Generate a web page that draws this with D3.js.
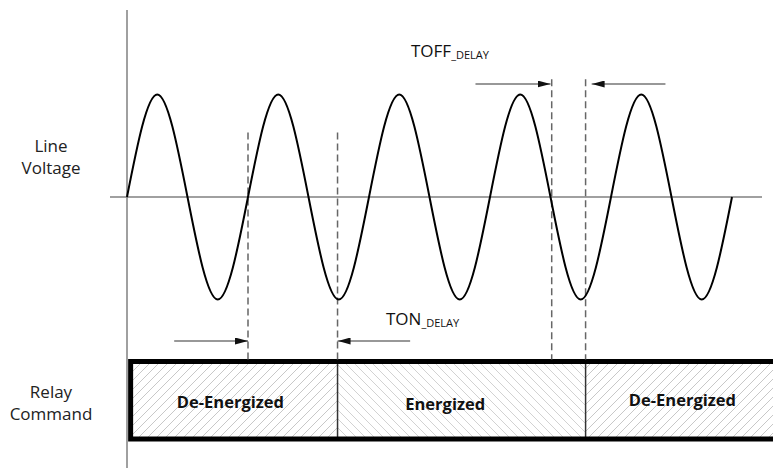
<!DOCTYPE html>
<html>
<head>
<meta charset="utf-8">
<script src="https://cdn.jsdelivr.net/npm/d3@7"></script>
<style>
  body { margin: 0; background: #fff; }
  svg { display: block; font-family: 'Open Sans', Lato, sans-serif; }
</style>
</head>
<body>
<div id="chart"></div>
<script>
// Line voltage key points (time in mains cycles, normalised voltage)
const waveTimes = [0, 0.25, 0.5, 0.75, 1, 1.25, 1.5, 1.75, 2, 2.25, 2.5, 2.75, 3, 3.25, 3.5, 3.75, 4, 4.25, 4.5, 4.75, 5];
const waveValues = [0, 1, 0, -1, 0, 1, 0, -1, 0, 1, 0, -1, 0, 1, 0, -1, 0, 1, 0, -1, 0];

// Dashed timing markers (cycles) and how high they reach (voltage units)
const markerTimes = [1.0, 1.74, 3.51, 3.79];
const markerTops = [0.63, 0.63, 1.15, 1.15];

// Delay arrows: tail -> tip, in cycles
const tonArrows = [{ from: 0.39, to: 1.0 }, { from: 2.34, to: 1.74 }];
const toffArrows = [{ from: 2.88, to: 3.5 }, { from: 4.45, to: 3.84 }];

// Relay command states
const relayStates = ['De-Energized', 'Energized', 'De-Energized'];
const relayStarts = [0.03, 1.74, 3.79];
const relayEnds = [1.74, 3.79, 5.4];
const relayLabelAt = [0.855, 2.63, 4.59];

const rowLabels = [['Line', 'Voltage'], ['Relay', 'Command']];

const W = 773, H = 468;
const svg = d3.select('#chart').append('svg')
    .attr('width', W)
    .attr('height', H);

// Scales
const x = d3.scaleLinear().domain([0, 5]).range([127, 732]);
const y = d3.scaleLinear().domain([-1, 1]).range([299.5, 94.5]);

// Relay row layout
const relayTop = 361.5, relayBottom = 439;

const defs = svg.append('defs');
defs.append('pattern')
    .attr('id', 'hatch-fwd')
    .attr('patternUnits', 'userSpaceOnUse')
    .attr('width', 9).attr('height', 9)
    .append('path')
    .attr('d', 'M0,9 L9,0 M-2.25,2.25 L2.25,-2.25 M6.75,11.25 L11.25,6.75')
    .attr('stroke', '#c8c8c8')
    .attr('stroke-width', 1);
defs.append('pattern')
    .attr('id', 'hatch-back')
    .attr('patternUnits', 'userSpaceOnUse')
    .attr('width', 9).attr('height', 9)
    .append('path')
    .attr('d', 'M0,0 L9,9 M-2.25,6.75 L2.25,11.25 M6.75,-2.25 L11.25,2.25')
    .attr('stroke', '#d2d2d2')
    .attr('stroke-width', 1);

defs.append('marker')
    .attr('id', 'head')
    .attr('viewBox', '0 0 13 7')
    .attr('refX', 13).attr('refY', 3.5)
    .attr('markerWidth', 13).attr('markerHeight', 7)
    .attr('markerUnits', 'userSpaceOnUse')
    .attr('orient', 'auto')
    .append('path')
    .attr('d', 'M0,0 L13,3.5 L0,7 Z')
    .attr('fill', '#111');

// Axes
svg.append('line')
    .attr('x1', x(0)).attr('x2', x(0))
    .attr('y1', 10).attr('y2', H)
    .attr('stroke', '#808080')
    .attr('stroke-width', 1.5);
svg.append('line')
    .attr('x1', 110).attr('x2', 762)
    .attr('y1', y(0)).attr('y2', y(0))
    .attr('stroke', '#808080')
    .attr('stroke-width', 1.5);

// Relay command boxes
const relay = svg.append('g');
relay.selectAll('rect')
    .data(relayStates)
    .join('rect')
    .attr('x', (d, i) => x(relayStarts[i]))
    .attr('y', relayTop)
    .attr('width', (d, i) => x(relayEnds[i]) - x(relayStarts[i]))
    .attr('height', relayBottom - relayTop)
    .attr('fill', d => d === 'Energized' ? 'url(#hatch-back)' : 'url(#hatch-fwd)');

relay.selectAll('line.divider')
    .data(relayStarts.slice(1))
    .join('line')
    .attr('class', 'divider')
    .attr('x1', d => x(d)).attr('x2', d => x(d))
    .attr('y1', relayTop).attr('y2', relayBottom)
    .attr('stroke', '#333')
    .attr('stroke-width', 1.5);

const x0 = x(relayStarts[0]), x1 = x(relayEnds[relayEnds.length - 1]);
relay.append('path')
    .attr('d', `M${x1},${relayTop} L${x0},${relayTop} L${x0},${relayBottom} L${x1},${relayBottom}`)
    .attr('fill', 'none')
    .attr('stroke', '#000')
    .attr('stroke-width', 5);

relay.selectAll('text')
    .data(relayStates)
    .join('text')
    .attr('x', (d, i) => x(relayLabelAt[i]))
    .attr('y', (d, i) => [408, 410, 406][i])
    .attr('text-anchor', 'middle')
    .attr('font-size', 16.5)
    .attr('font-weight', 'bold')
    .attr('fill', '#111')
    .text(d => d);

// Dashed timing markers
svg.selectAll('line.marker')
    .data(markerTimes)
    .join('line')
    .attr('class', 'marker')
    .attr('x1', d => x(d)).attr('x2', d => x(d))
    .attr('y1', (d, i) => y(markerTops[i]))
    .attr('y2', relayTop - 2)
    .attr('stroke', '#666')
    .attr('stroke-width', 1.5)
    .attr('stroke-dasharray', '7,4');

// Sine wave
const points = waveTimes.map((t, i) => [t, waveValues[i]]);
svg.append('path')
    .datum(points)
    .attr('fill', 'none')
    .attr('stroke', '#000')
    .attr('stroke-width', 2)
    .attr('d', d3.line()
        .x(d => x(d[0]))
        .y(d => y(d[1]))
        .curve(d3.curveNatural));

// Delay arrows
function drawArrows(data, yPos) {
    svg.append('g').selectAll('line')
        .data(data)
        .join('line')
        .attr('x1', d => x(d.from)).attr('x2', d => x(d.to))
        .attr('y1', yPos).attr('y2', yPos)
        .attr('stroke', '#333')
        .attr('stroke-width', 1.2)
        .attr('marker-end', 'url(#head)');
}
drawArrows(tonArrows, 341);
drawArrows(toffArrows, 84);

// Delay labels
function delayLabel(main, xPos, yPos) {
    const t = svg.append('text')
        .attr('x', xPos)
        .attr('y', yPos)
        .attr('fill', '#111');
    t.append('tspan').attr('font-size', 17).text(main);
    t.append('tspan').attr('font-size', 11).attr('dy', 2).text('_DELAY');
}
delayLabel('TOFF', 411, 57);
delayLabel('TON', 386, 325);

// Row labels
const rowY = [[152, 174], [398, 420]];
rowLabels.forEach((lines, r) => {
    svg.append('text')
        .attr('text-anchor', 'middle')
        .attr('font-size', 17)
        .attr('fill', '#222')
        .selectAll('tspan')
        .data(lines)
        .join('tspan')
        .attr('x', 51)
        .attr('y', (d, i) => rowY[r][i])
        .text(d => d);
});
</script>
</body>
</html>
